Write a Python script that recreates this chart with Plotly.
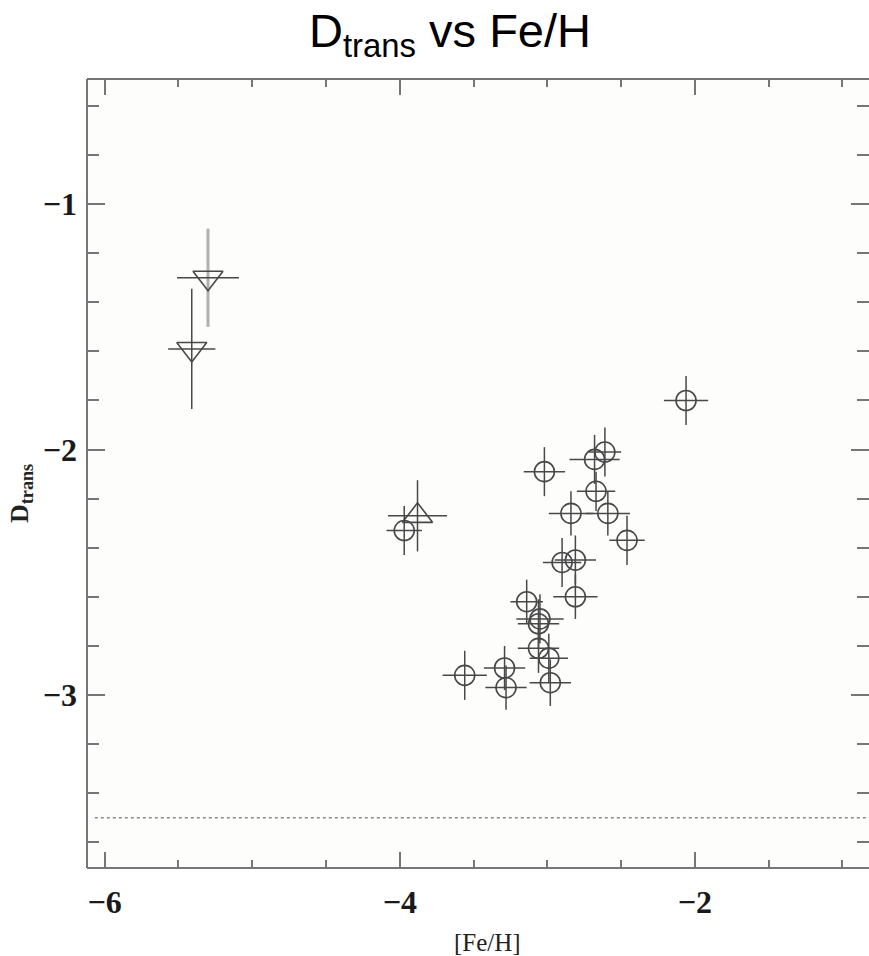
import plotly.graph_objects as go

# Detections (open circles)
fe_h = [-3.97, -3.02, -2.68, -2.61, -2.67, -2.84, -2.59, -2.46, -2.90, -2.81, -2.81,
        -3.14, -3.05, -3.06, -3.06, -2.99, -3.56, -3.29, -3.28, -2.98, -2.06]
d_trans = [-2.33, -2.09, -2.04, -2.01, -2.17, -2.26, -2.26, -2.37, -2.46, -2.45, -2.60,
           -2.62, -2.69, -2.71, -2.81, -2.85, -2.92, -2.89, -2.97, -2.95, -1.80]
fe_h_err = [0.12, 0.14, 0.17, 0.11, 0.13, 0.15, 0.15, 0.12, 0.13, 0.14, 0.15,
            0.11, 0.16, 0.14, 0.14, 0.13, 0.15, 0.14, 0.14, 0.14, 0.15]
d_trans_err = [0.10, 0.10, 0.10, 0.10, 0.08, 0.09, 0.09, 0.10, 0.10, 0.10, 0.09,
               0.09, 0.10, 0.10, 0.10, 0.10, 0.10, 0.09, 0.09, 0.095, 0.10]

# Upper limits (downward triangles)
ul_fe_h = [-5.30, -5.41]
ul_d_trans = [-1.30, -1.59]
ul_fe_h_err = [0.21, 0.16]
ul_d_trans_err = [0.20, 0.245]

# Lower limit (upward triangle)
ll_fe_h = [-3.88]
ll_d_trans = [-2.27]
ll_fe_h_err = [0.20]
ll_d_trans_err = [0.145]

# Reference level
d_trans_level = -3.5

x_range = [-6.12, -0.82]
y_range = [-3.705, -0.49]

W, H = 869, 956
M_L, M_R, M_T, M_B = 87, 0, 79, 88

ink = "#484848"
frame = "#767676"

fig = go.Figure()

fig.add_trace(go.Scatter(
    x=fe_h, y=d_trans, mode="markers",
    marker=dict(symbol="circle-open", size=20, color=ink, line=dict(width=1.6, color=ink)),
    error_x=dict(type="data", array=fe_h_err, color=ink, thickness=1.5, width=0),
    error_y=dict(type="data", array=d_trans_err, color=ink, thickness=1.5, width=0),
    showlegend=False,
))

# first upper limit: light vertical bar
fig.add_trace(go.Scatter(
    x=ul_fe_h[:1], y=ul_d_trans[:1], mode="markers",
    marker=dict(symbol="triangle-down-open", size=26, color=ink, line=dict(width=1.6, color=ink)),
    error_x=dict(type="data", array=ul_fe_h_err[:1], color=ink, thickness=1.5, width=0),
    error_y=dict(type="data", array=ul_d_trans_err[:1], color="#b0b0b0", thickness=3, width=0),
    showlegend=False,
))
fig.add_trace(go.Scatter(
    x=ul_fe_h[1:], y=ul_d_trans[1:], mode="markers",
    marker=dict(symbol="triangle-down-open", size=26, color=ink, line=dict(width=1.6, color=ink)),
    error_x=dict(type="data", array=ul_fe_h_err[1:], color=ink, thickness=1.5, width=0),
    error_y=dict(type="data", array=ul_d_trans_err[1:], color=ink, thickness=1.5, width=0),
    showlegend=False,
))
fig.add_trace(go.Scatter(
    x=ll_fe_h, y=ll_d_trans, mode="markers",
    marker=dict(symbol="triangle-up-open", size=26, color=ink, line=dict(width=1.6, color=ink)),
    error_x=dict(type="data", array=ll_fe_h_err, color=ink, thickness=1.5, width=0),
    error_y=dict(type="data", array=ll_d_trans_err, color=ink, thickness=1.5, width=0),
    showlegend=False,
))

# dotted reference level
fig.add_shape(type="line", xref="paper", yref="y", x0=0.01, x1=1, y0=d_trans_level, y1=d_trans_level,
              line=dict(color="#8a8a8a", width=1.5, dash="dot"))

# frame (left, top, bottom)
for x0, x1, y0, y1 in [(0, 0, 0, 1), (0, 1, 1, 1), (0, 1, 0, 0)]:
    fig.add_shape(type="line", xref="paper", yref="paper", x0=x0, x1=x1, y0=y0, y1=y1,
                  line=dict(color=frame, width=2), layer="above")

tick_font = dict(family="Liberation Serif, Times New Roman, serif", size=32, color="#1a1a1a", weight="bold")

fig.update_xaxes(
    range=x_range, showgrid=False, zeroline=False, showline=False,
    tick0=-6, dtick=2, ticks="inside", ticklen=16, tickwidth=2, tickcolor=frame,
    mirror="ticks", tickfont=tick_font, ticklabelstandoff=12,
    minor=dict(dtick=0.5, ticks="inside", ticklen=8, tickwidth=1.5, tickcolor=frame),
)
fig.update_yaxes(
    range=y_range, showgrid=False, zeroline=False, showline=False,
    tick0=-3, dtick=1, ticks="inside", ticklen=18, tickwidth=2, tickcolor=frame,
    mirror="ticks", tickfont=tick_font, ticklabelstandoff=9,
    minor=dict(dtick=0.2, ticks="inside", ticklen=12, tickwidth=1.5, tickcolor=frame),
)

pw = W - M_L - M_R
ph = H - M_T - M_B

fig.add_annotation(
    text="[Fe/H]", xref="paper", yref="paper",
    x=(487 - M_L) / pw, y=(H - M_B - 942) / ph, xanchor="center", yanchor="middle",
    showarrow=False, font=dict(family="Liberation Serif, Times New Roman, serif", size=25, color="#222"),
)
fig.add_annotation(
    text="D<sub>trans</sub>", xref="paper", yref="paper", textangle=-90,
    x=(3 - M_L) / pw, y=(H - M_B - 494) / ph, xanchor="left", yanchor="middle",
    showarrow=False,
    font=dict(family="Liberation Serif, Times New Roman, serif", size=26, color="#222", weight="bold"),
)

fig.update_layout(
    width=W, height=H,
    margin=dict(l=M_L, r=M_R, t=M_T, b=M_B),
    paper_bgcolor="white", plot_bgcolor="#fdfdfc",
    title=dict(
        text="D<sub>trans</sub> vs Fe/H",
        font=dict(family="Liberation Sans, Arial, sans-serif", size=47, color="black"),
        xref="container", yref="container", x=450 / W, y=1 - 31 / H,
        xanchor="center", yanchor="middle",
    ),
)

fig.write_html("out.html")
